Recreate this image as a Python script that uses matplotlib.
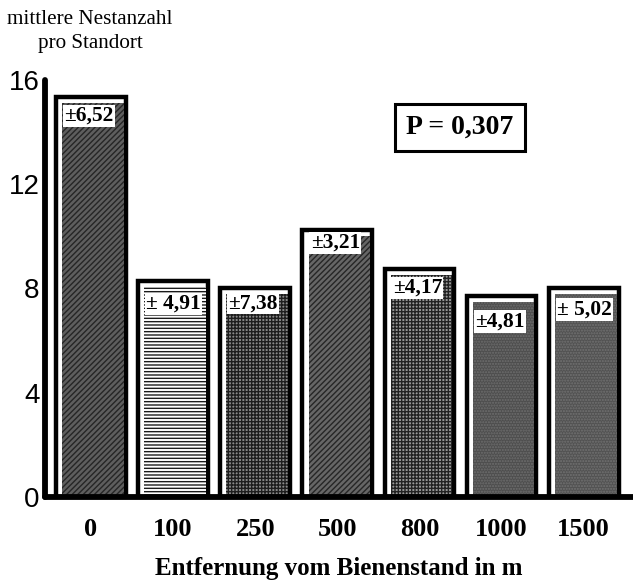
import matplotlib
matplotlib.use("Agg")
import matplotlib.pyplot as plt
from matplotlib.patches import Rectangle

categories = ["0", "100", "250", "500", "800", "1000", "1500"]
means = [15.35, 8.29, 8.02, 10.25, 8.75, 7.71, 8.02]
sd_labels = ["±6,52", "± 4,91", "±7,38", "±3,21", "±4,17", "±4,81", "± 5,02"]
y_ticks = [0, 4, 8, 12, 16]

faces = ["#5e5e5e", "#ffffff", "#8a8a8a", "#666666", "#9a9a9a", "#4e4e4e", "#525252"]
hatch_cols = ["#262626", "#1a1a1a", "#1e1e1e", "#262626", "#222222", "#6e6e6e", "#727272"]
hatches = ["//////", "-----", "+++++", "//////", "+++++", "......", "......"]
label_drop = [0.35, 0.5, 0.2, 0.12, 0.35, 0.6, 0.45]

serif = "Liberation Serif"

fig = plt.figure(figsize=(6.33, 5.81), dpi=100)
ax = fig.add_axes([0.071, 0.1446, 0.929, 0.7177])
ax.set_xlim(-0.56, 6.6)
ax.set_ylim(0, 16)

w = 0.85
for i, (v, lab) in enumerate(zip(means, sd_labels)):
    left = i - w / 2
    outer = Rectangle((left, 0), w, v, facecolor="white", edgecolor="black",
                      linewidth=3.2, zorder=2)
    ax.add_patch(outer)
    inner = Rectangle((left + 0.075, 0), w - 0.1, v - 0.22, facecolor=faces[i],
                      edgecolor=hatch_cols[i], hatch=hatches[i], linewidth=0, zorder=3)
    ax.add_patch(inner)
    ax.text(left + 0.1, v - label_drop[i], lab, ha="left", va="top",
            fontfamily=serif, fontweight="bold", fontsize=15.5, zorder=5,
            bbox=dict(boxstyle="square,pad=0.06", facecolor="white", edgecolor="none"))

for s in ["top", "right"]:
    ax.spines[s].set_visible(False)
for s in ["left", "bottom"]:
    ax.spines[s].set_linewidth(4.2)
    ax.spines[s].set_capstyle("round")
ax.spines["left"].set_zorder(6)
ax.spines["bottom"].set_zorder(6)

ax.set_xticks(range(len(categories)))
ax.set_xticklabels(categories, fontfamily=serif, fontweight="bold", fontsize=19)
ax.set_yticks(y_ticks)
ax.set_yticklabels([str(t) for t in y_ticks], fontfamily="Liberation Sans", fontsize=20)
ax.tick_params(axis="x", length=0, pad=15)
ax.tick_params(axis="y", length=0, pad=4)

ax.set_xlabel("Entfernung vom Bienenstand in m", fontfamily=serif, fontweight="bold",
              fontsize=18, labelpad=12)

fig.text(0.142, 0.982, "mittlere Nestanzahl\npro Standort", ha="center", va="top",
         fontfamily=serif, fontsize=15.2, linespacing=1.35)

ax.text(0.706, 0.887, "P = 0,307", transform=ax.transAxes, ha="center", va="center",
        fontfamily=serif, fontweight="bold", fontsize=20,
        bbox=dict(boxstyle="square,pad=0.4", facecolor="white", edgecolor="black",
                  linewidth=2.2))

fig.savefig("out.png", dpi=100)
